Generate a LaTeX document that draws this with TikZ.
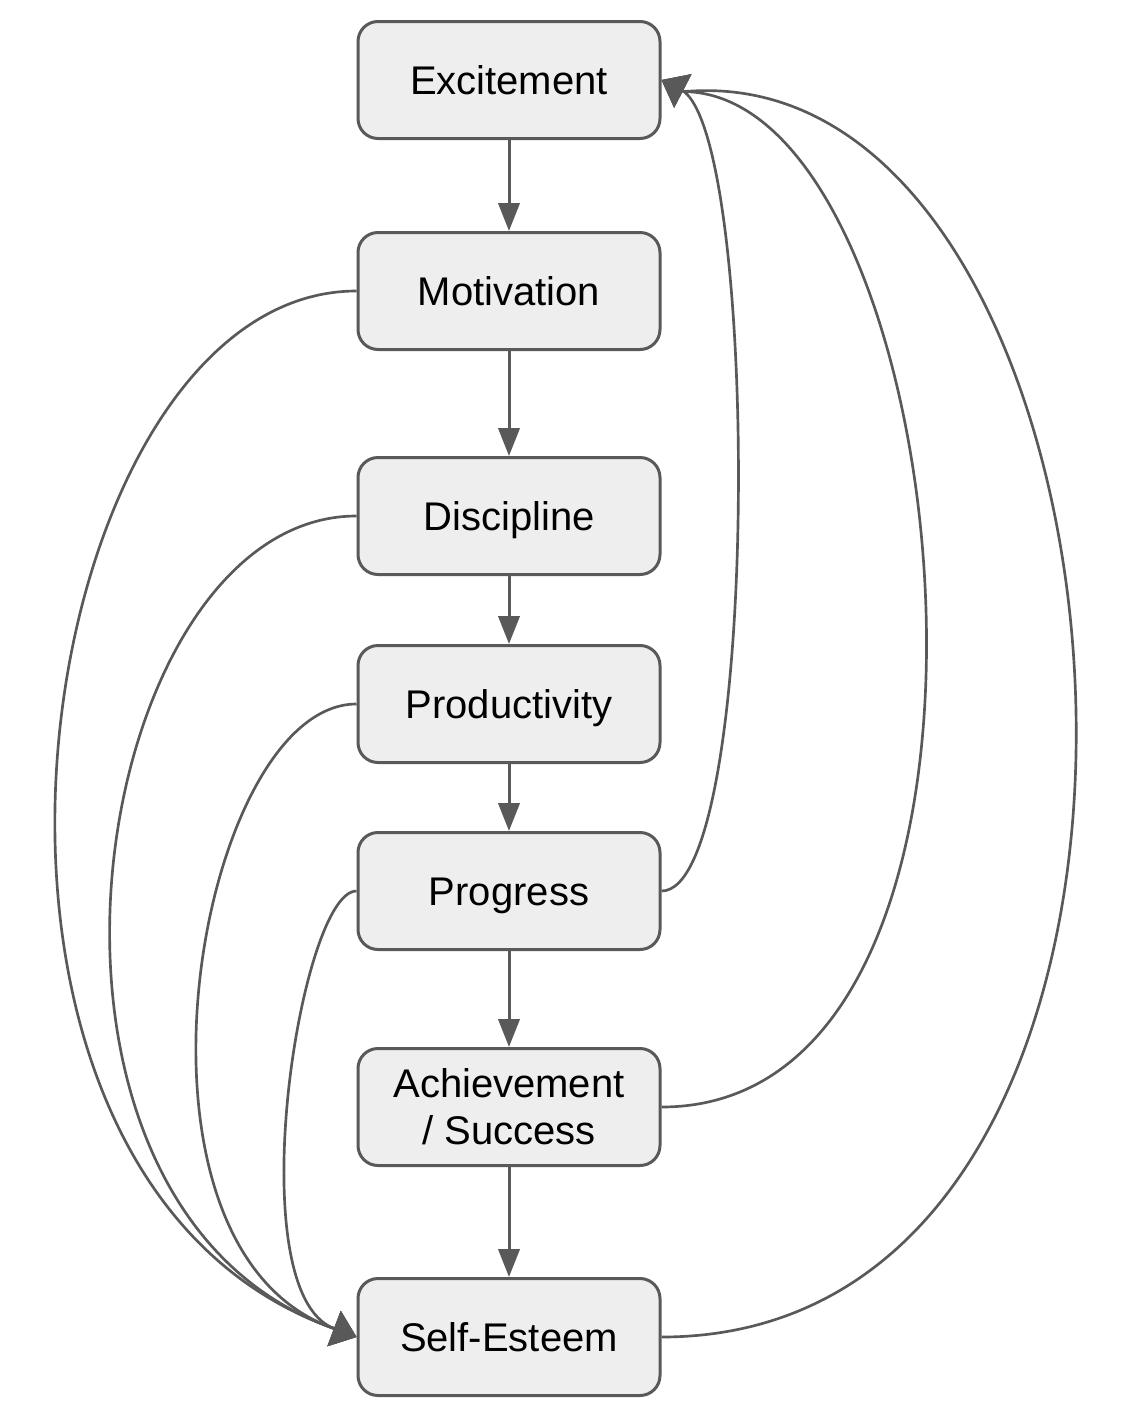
\documentclass[tikz,border=0pt]{standalone}
\usepackage{fontspec}
\setmainfont{Liberation Sans}
\usetikzlibrary{arrows.meta}
\definecolor{edge}{HTML}{595959}
\definecolor{boxfill}{HTML}{EEEEEE}
\begin{document}
\begin{tikzpicture}[x=0.75pt,y=-0.75pt,
  box/.style={draw=edge, fill=boxfill, line width=2.25pt, rounded corners=15pt,
    minimum width=226.5pt, minimum height=87.75pt, inner sep=0pt,
    align=center, font=\fontsize{30pt}{35pt}\selectfont},
  oneline/.style={text height=21.5pt, text depth=0pt},
  down/.style={draw=edge, line width=2.25pt, -{Triangle[length=21pt,width=16pt]}},
  loop/.style={draw=edge, line width=2pt, -{Triangle[length=18pt,width=28pt]}}]
\useasboundingbox (0,0) rectangle (1142,1418);
\node[box,oneline] (exc) at (509,80) {Excitement};
\node[box,oneline] (mot) at (509,291) {Motivation};
\node[box,oneline] (dis) at (509,516) {Discipline};
\node[box,oneline] (pro) at (509,704) {Productivity};
\node[box,oneline] (prg) at (509,891) {Progress};
\node[box] (ach) at (509,1107) {Achievement\\/ Success};
\node[box,oneline] (se) at (509,1337) {Self-Esteem};
\coordinate (seIn) at (333.5,1328.3);
\coordinate (excIn) at (684,91.6);
\draw[down] (exc) -- (mot);
\draw[down] (mot) -- (dis);
\draw[down] (dis) -- (pro);
\draw[down] (pro) -- (prg);
\draw[down] (prg) -- (ach);
\draw[down] (ach) -- (se);
% left loops
\draw[loop] (mot.west) .. controls (28,291) and (-104,1173) .. (seIn) -- (se.west);
\draw[loop] (dis.west) .. controls (88,516) and (-19,1203) .. (seIn) -- (se.west);
\draw[loop] (pro.west) .. controls (198,704) and (103,1247) .. (seIn) -- (se.west);
\draw[loop] (prg.west) .. controls (300,891) and (238,1290) .. (seIn) -- (se.west);
% right loops
\draw[loop] (prg.east) .. controls (760,891) and (760,150) .. (excIn) -- (exc.east);
\draw[loop] (ach.east) .. controls (1060,1107) and (960,95) .. (excIn) -- (exc.east);
\draw[loop] (se.east) .. controls (1260,1337) and (1160,50) .. (excIn) -- (exc.east);
\end{tikzpicture}
\end{document}
